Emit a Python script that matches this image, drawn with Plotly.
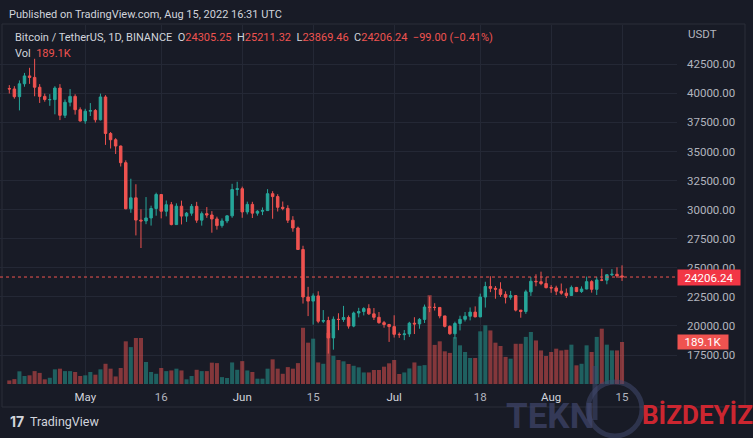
import pandas as pd
import plotly.graph_objects as go

# ---------------- data ----------------
dates = pd.date_range("2022-04-16", "2022-08-15", freq="D")

opens = [40420, 40380, 39716, 40826, 41502, 41374, 40527, 39740, 39450, 39469, 40458, 38112, 39235, 39742, 38596,
         37630, 38468, 38525, 37729, 39690, 36552, 36013, 35472, 34039, 30077, 31017, 29103, 29030, 29287, 30098,
         31305, 29862, 30425, 28716, 30297, 29445, 29700, 30285, 29098, 29655, 29542, 29201, 28629, 29031, 29468, 31734,
         31801, 29805, 30452, 29700, 29864, 29919, 31373, 31125, 30204, 30109, 29091, 28424, 26574, 22487, 22136,
         22583, 20401, 20468, 18970, 20574, 20555, 20723, 19987, 21110, 21237, 21491, 21038, 20742, 20281, 20123,
         19942, 19279, 19252, 19315, 20236, 20175, 20564, 21624, 21594, 21591, 20862, 19963, 19328, 20212, 20569,
         20836, 21190, 20779, 22485, 23389, 23231, 23164, 22714, 22465, 22609, 21361, 21239, 22930, 23843, 23804, 23643,
         23296, 23268, 22987, 22818, 22622, 23312, 22954, 23175, 23810, 23149, 23954, 23935, 24403, 24442, 24305.25]
highs = [40710, 40620, 41116, 41760, 42199, 42976, 40798, 39980, 39935, 40616, 40797, 39474, 40372, 39925, 38795,
         38675, 39167, 38651, 39980, 39845, 36675, 36146, 35510, 34243, 32659, 32186, 30033, 31083, 30343, 31460,
         31305, 30788, 30661, 30545, 30777, 29800, 30487, 30670, 29842, 30223, 29872, 29397, 29250, 29530, 32222, 32399,
         31982, 30690, 30675, 29950, 30189, 31765, 31589, 31327, 30700, 30382, 29440, 28544, 26895, 23362, 22800,
         22980, 21365, 20792, 20815, 21090, 21723, 20900, 21233, 21558, 21614, 21868, 21539, 21200, 20432, 20179,
         20918, 19443, 19647, 20354, 20750, 20675, 21838, 22527, 21954, 21608, 20868, 20055, 20366, 20880, 21200,
         21588, 21684, 22777, 23800, 24276, 23427, 23757, 22977, 23014, 22650, 21361, 23112, 24199, 24442, 24668, 24194,
         23509, 23459, 23647, 23223, 23475, 23354, 23400, 24245, 23933, 24226, 24918, 24456, 24888, 25047, 25211.32]
lows = [39990, 39546, 38536, 40571, 40820, 39751, 39177, 39285, 38929, 38200, 37702, 37881, 38881, 38175, 37578,
        37386, 38052, 37500, 37670, 35571, 35258, 34785, 33713, 30033, 29730, 27785, 26700, 28751, 28630, 29480,
        29251, 29425, 28654, 28694, 28730, 28947, 29475, 28866, 28627, 29294, 28019, 28282, 28450, 28839, 29299, 31200,
        29301, 29594, 29282, 29485, 29531, 29890, 29218, 29843, 29944, 28850, 28099, 26560, 21925, 20846, 20111,
        20233, 20246, 17622, 17960, 19637, 20348, 19770, 19890, 20740, 20906, 20950, 20510, 20188, 19849, 18626,
        19000, 18975, 18781, 19055, 19304, 19761, 20251, 21189, 21323, 20655, 19875, 19240, 18910, 19616, 20384,
        20478, 20750, 20762, 21581, 22906, 22341, 22500, 21934, 22257, 21250, 20706, 21042, 22582, 23414, 23502, 23227,
        22850, 22654, 22681, 22400, 22588, 22909, 22842, 23154, 22865, 22664, 23852, 23583, 24291, 24125, 23869.46]
closes = [40380, 39716, 40826, 41502, 41374, 40527, 39740, 39478, 39469, 40458, 38112, 39235, 39742, 38596, 37630,
          38468, 38525, 37729, 39690, 36552, 36013, 35472, 34039, 30077, 31017, 29103, 29030, 29287, 30098, 31305,
          29862, 30425, 28716, 30297, 29445, 29700, 30285, 29098, 29655, 29542, 29201, 28629, 29031, 29468, 31734, 31801,
          29805, 30452, 29700, 29864, 29919, 31373, 31125, 30204, 30109, 29091, 28424, 26574, 22487, 22136, 22583,
          20401, 20468, 18970, 20574, 20555, 20723, 19987, 21110, 21237, 21491, 21038, 20742, 20281, 20123, 19942,
          19279, 19252, 19315, 20236, 20175, 20564, 21624, 21594, 21591, 20862, 19963, 19328, 20212, 20569, 20836,
          21190, 20779, 22485, 23389, 23231, 23164, 22714, 22465, 22609, 21361, 21239, 22930, 23843, 23804, 23643, 23293,
          23268, 22987, 22818, 22622, 23312, 22954, 23175, 23810, 23149, 23954, 23935, 24403, 24442, 24305.24, 24206.24]
volumes_k = [16, 22, 57, 36, 39, 58, 50, 21, 28, 66, 69, 58, 58, 54, 36,
             39, 54, 42, 66, 91, 69, 34, 72, 192, 166, 207, 207, 99, 54, 46,
             72, 58, 61, 69, 61, 21, 36, 64, 58, 58, 96, 94, 31, 27, 97, 64,
             103, 61, 54, 24, 24, 69, 111, 69, 46, 76, 69, 94, 253, 186, 204,
             97, 91, 230, 127, 108, 102, 90, 82, 75, 52, 52, 63, 63, 78, 93,
             108, 45, 52, 70, 97, 82, 85, 400, 176, 192, 147, 140, 211, 174, 144,
             117, 117, 237, 264, 241, 186, 171, 122, 114, 181, 181, 212, 234, 196, 151, 126,
             144, 159, 151, 154, 177, 84, 91, 174, 144, 212, 249, 177, 151, 151, 189.1]

price_ticks = [17500, 20000, 22500, 25000, 27500, 30000, 32500, 35000, 37500, 40000, 42500]
date_ticks = ["2022-05-01", "2022-05-16", "2022-06-01", "2022-06-15", "2022-07-01", "2022-07-18", "2022-08-01", "2022-08-15"]
date_tick_text = ["May", "16", "Jun", "15", "Jul", "18", "Aug", "15"]

last_close = closes[-1]
last_vol = volumes_k[-1]

# ---------------- style ----------------
BG = "#181b26"
GRID = "#242835"
UP = "#26a69a"
DN = "#ef5350"
TXT = "#b2b5be"
WM = "rgba(66,72,110,0.7)"
W, H = 753, 438
L, R, T, B = 0, 76, 25, 54
PW, PH = W - L - R, H - T - B


def px(xp):
    return (xp - L) / PW


def py(yp):
    return (H - B - yp) / PH


# x range: first candle centre at 9.3px, 5.064px per day
day_px = 5.064
x0 = dates[0] - pd.Timedelta(days=9.3 / day_px)
x1 = dates[0] + pd.Timedelta(days=(PW - 9.3) / day_px)
# price scale: 25000 at y=267.8, 0.011628 px per unit
ppx = 0.011628
p_lo = 25000 - ((H - B) - 267.8) / ppx
p_hi = 25000 + (267.8 - T) / ppx
v_hi = PH * 4.5

vol_colors = ["rgba(38,166,154,0.5)" if c >= o else "rgba(239,83,80,0.5)" for o, c in zip(opens, closes)]

fig = go.Figure()
fig.add_trace(go.Bar(x=dates, y=volumes_k, marker=dict(color=vol_colors, line=dict(width=0)),
                     width=86400000 * 0.8, yaxis="y", hoverinfo="skip"))
fig.add_trace(go.Candlestick(x=dates, open=opens, high=highs, low=lows, close=closes, yaxis="y2",
                             increasing=dict(line=dict(color=UP, width=1), fillcolor=UP),
                             decreasing=dict(line=dict(color=DN, width=1), fillcolor=DN),
                             whiskerwidth=0, hoverinfo="skip"))

fig.update_layout(
    width=W, height=H, margin=dict(l=L, r=R, t=T, b=B),
    paper_bgcolor=BG, plot_bgcolor=BG, showlegend=False,
    font=dict(family="Roboto", color=TXT, size=11.5),
    xaxis=dict(type="date", range=[x0, x1], tickvals=date_ticks,
               ticktext=["<span style='color:#d1d4dc'>%s</span>" % t if t.isalpha() else t for t in date_tick_text],
               showgrid=True, gridcolor=GRID, gridwidth=1, zeroline=False, showline=False,
               ticks="", ticklabelstandoff=4, rangeslider=dict(visible=False), fixedrange=True),
    yaxis=dict(range=[0, v_hi], visible=False, showgrid=False, zeroline=False, fixedrange=True),
    yaxis2=dict(overlaying="y", side="right", range=[p_lo, p_hi], tickvals=price_ticks,
                ticktext=["%.2f" % v for v in price_ticks], showgrid=True, gridcolor=GRID,
                zeroline=False, showline=False, ticks="", ticklabelstandoff=9, fixedrange=True),
)

# last-price dotted line
fig.add_shape(type="line", xref="paper", yref="y2", x0=0, x1=1, y0=last_close, y1=last_close,
              line=dict(color=DN, width=1, dash="dot"))
# chart frame
fig.add_shape(type="rect", xref="paper", yref="paper", x0=px(2), x1=px(745), y0=py(407), y1=py(24),
              line=dict(color="#2a2e39", width=1), layer="below")

change = closes[-1] - closes[-2]
pct = change / closes[-2] * 100
ann = []
ann.append(dict(text="Published on TradingView.com, Aug 15, 2022 16:31 UTC", x=px(7), y=py(14),
                xanchor="left", yanchor="middle", font=dict(size=11, color="#d1d4dc")))
hdr = ("Bitcoin / TetherUS, 1D, BINANCE&nbsp;&nbsp;O<span style='color:#ef5350'>%.2f</span>&nbsp;&nbsp;"
       "H<span style='color:#ef5350'>%.2f</span>&nbsp;&nbsp;L<span style='color:#ef5350'>%.2f</span>&nbsp;&nbsp;"
       "C<span style='color:#ef5350'>%.2f&nbsp;&nbsp;%.2f (%.2f%%)</span>") % (
    opens[-1], highs[-1], lows[-1], closes[-1], change, pct)
hdr = hdr.replace("-", "\u2212")
ann.append(dict(text=hdr, x=px(13), y=py(37), xanchor="left", yanchor="middle",
                font=dict(size=11, color="#d1d4dc")))
ann.append(dict(text="Vol&nbsp;&nbsp;<span style='color:#ef5350'>%.1fK</span>" % last_vol, x=px(13), y=py(53),
                xanchor="left", yanchor="middle", font=dict(size=11, color="#d1d4dc")))
ann.append(dict(text="USDT", x=px(686), y=py(34), xanchor="left", yanchor="middle",
                font=dict(size=11.5, color=TXT)))
ann.append(dict(text="%.2f" % last_close, x=px(677), y=last_close, yref="y2", xanchor="left", yanchor="middle",
                bgcolor="#f23645", font=dict(size=11.5, color="white"), width=58, height=11, borderpad=2))
ann.append(dict(text="%.1fK" % last_vol, x=px(677), y=last_vol, yref="y", xanchor="left", yanchor="middle",
                bgcolor="#ef5350", font=dict(size=11.5, color="white"), width=46, height=10, borderpad=2))
ann.append(dict(text="<b>17</b>", x=px(8), y=py(421), xanchor="left", yanchor="middle",
                font=dict(size=14, color="#d1d4dc", family="Inter")))
ann.append(dict(text="TradingView", x=px(28), y=py(421), xanchor="left", yanchor="middle",
                font=dict(size=12.5, color="#d1d4dc")))
# watermark
ann.append(dict(text="<b>TEKN</b>", x=px(504), y=py(416), xanchor="left", yanchor="middle",
                font=dict(size=35, color=WM, family="Roboto")))
ann.append(dict(text="<b>BİZDEYİZ</b>", x=px(640), y=py(415), xanchor="left", yanchor="middle",
                font=dict(size=26, color="rgba(230,40,50,0.9)", family="Roboto")))
for a in ann:
    a.setdefault("xref", "paper")
    a.setdefault("yref", "paper")
    a["showarrow"] = False
fig.update_layout(annotations=ann)

fig.add_shape(type="circle", xref="paper", yref="paper", x0=px(588), x1=px(642), y0=py(436), y1=py(382),
              line=dict(color="rgba(66,72,110,0.55)", width=5))
fig.add_shape(type="line", xref="paper", yref="paper", x0=px(595), x1=px(595), y0=py(420), y1=py(366),
              line=dict(color="rgba(66,72,110,0.55)", width=5))

fig.write_html("out.html")
